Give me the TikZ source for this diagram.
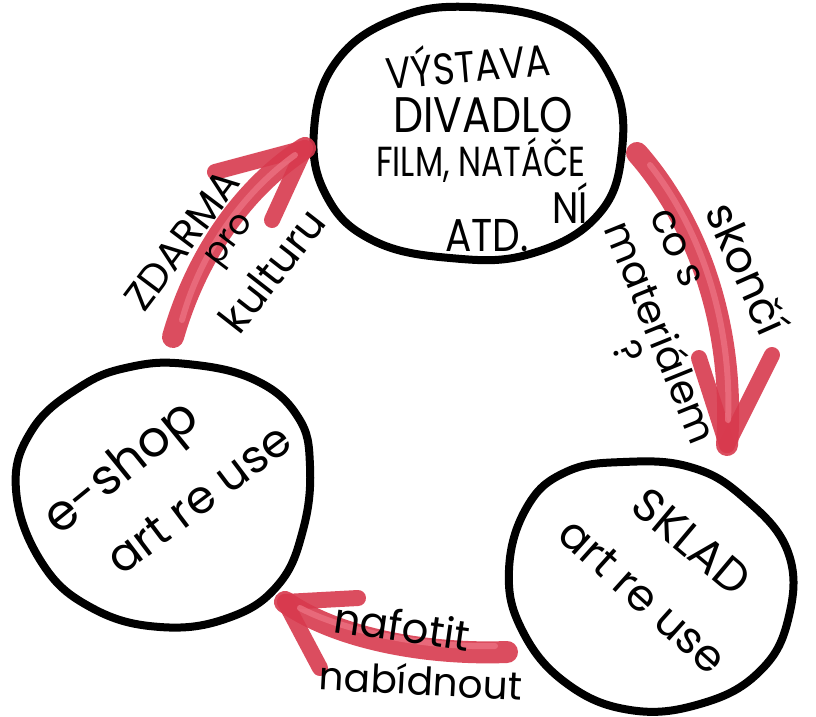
\documentclass[tikz,border=0pt]{standalone}
\usepackage{fontspec}
\setmainfont{Poppins}
\begin{document}
\begin{tikzpicture}[x=1pt,y=-1pt,
  blob/.style={draw=black,line width=8pt,line join=round},
  brush/.style={draw={rgb,255:red,216;green,58;blue,78},line width=22pt,line cap=round,opacity=0.9},
  brushlight/.style={draw={rgb,255:red,238;green,118;blue,134},line width=6pt,line cap=round,opacity=0.7},
  hand/.style={font=\fontsize{#1}{#1}\selectfont,inner sep=0pt,text=black}]
\useasboundingbox (0,0) rectangle (816,717);
\fill[white] (0,0) rectangle (816,717);

% circles
\coordinate (top) at (467,132);
\coordinate (shop) at (162,495);
\coordinate (sklad) at (650,585);
\draw[blob] plot[smooth cycle,tension=0.7] coordinates {(470,7) (560,25) (612,80) (622,150) (598,215) (530,254) (450,258) (372,240) (326,195) (314,130) (336,62) (395,19)};
\draw[blob] plot[smooth cycle,tension=0.7] coordinates {(187,364) (255,380) (298,417) (310,466) (303,530) (278,585) (228,618) (160,627) (92,608) (42,563) (16,490) (32,430) (80,387) (130,367)};
\draw[blob] plot[smooth cycle,tension=0.7] coordinates {(623,462) (690,467) (743,497) (788,552) (788,620) (758,673) (700,704) (630,710) (566,683) (522,630) (509,570) (527,507) (566,472)};

% arrows (brush strokes)
\coordinate (a1s) at (173,337); \coordinate (a1e) at (305,148);
\coordinate (a1l) at (215,172); \coordinate (a1r) at (272,220);
\draw[brush] (a1s) .. controls (195,260) and (240,190) .. (a1e);
\draw[brush,line width=16pt] (a1e) -- (a1l);
\draw[brush,line width=16pt] (a1e) -- (a1r);
\draw[brushlight] (182,320) .. controls (200,255) and (240,195) .. (295,155);

\coordinate (a2s) at (637,153); \coordinate (a2e) at (727,445);
\coordinate (a2l) at (699,358); \coordinate (a2r) at (772,355);
\draw[brush] (a2s) .. controls (700,225) and (735,330) .. (a2e);
\draw[brush,line width=16pt] (a2e) -- (a2l);
\draw[brush,line width=16pt] (a2e) -- (a2r);
\draw[brushlight] (650,165) .. controls (705,235) and (732,330) .. (728,420);

\coordinate (a3s) at (507,652); \coordinate (a3e) at (285,602);
\coordinate (a3u) at (358,598); \coordinate (a3d) at (320,668);
\draw[brush] (a3s) .. controls (430,655) and (340,640) .. (a3e);
\draw[brush,line width=16pt] (a3e) -- (a3u);
\draw[brush,line width=16pt] (a3e) -- (a3d);
\draw[brushlight] (495,646) .. controls (430,648) and (345,632) .. (300,608);

% top circle text
\node[hand=44,rotate=5,xscale=0.85] (t1) at (468,62) {VÝSTAVA};
\node[hand=50,xscale=0.85] (t2) at (483,115) {DIVADLO};
\node[hand=42,xscale=0.78] (t3) at (481,160) {FILM, NATÁČE};
\node[hand=44,xscale=0.85] (t4) at (570,203) {NÍ};
\node[hand=46,xscale=0.85] (t5) at (487,236) {ATD.};

% left circle text
\node[hand=50,rotate=39] (s1) at (123,470) {e-shop};
\node[hand=46,rotate=37] (s2) at (199,499) {art re use};

% right circle text
\node[hand=46,rotate=-40] (k1) at (692,542) {SKLAD};
\node[hand=44,rotate=-42] (k2) at (643,596) {art re use};

% left arrow labels
\node[hand=40,rotate=53] (l1) at (182,240) {ZDARMA};
\node[hand=34,rotate=53] (l2) at (232,242) {pro};
\node[hand=42,rotate=52] (l3) at (272,270) {kulturu};

% right arrow labels
\node[hand=44,rotate=-66] (r1) at (748,268) {skončí};
\node[hand=40,rotate=-66] (r2) at (676,248) {co s};
\node[hand=40,rotate=-68] (r3) at (662,332) {materiálem};
\node[hand=40,rotate=-68] (r4) at (628,352) {?};

% bottom arrow labels
\node[hand=42,rotate=-8] (b1) at (402,626) {nafotit};
\node[hand=39,rotate=-3] (b2) at (421,680) {nabídnout};
\end{tikzpicture}
\end{document}
